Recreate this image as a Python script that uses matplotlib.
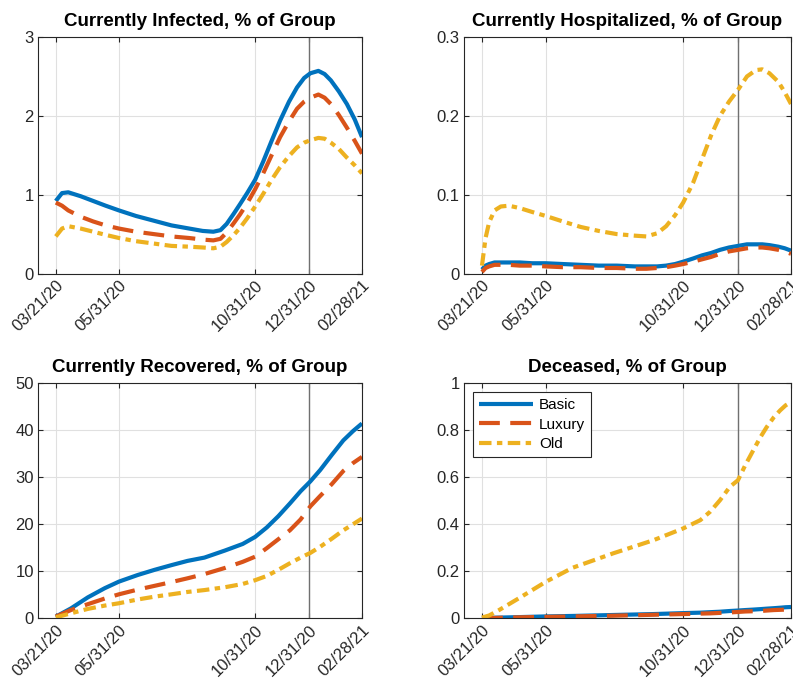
import matplotlib
matplotlib.use("Agg")
import matplotlib.pyplot as plt
import matplotlib.dates as mdates
from matplotlib.ticker import FuncFormatter
import pandas as pd

plt.rcParams["font.family"] = ["Liberation Sans", "DejaVu Sans"]

START = pd.Timestamp("2020-03-21")
GROUPS = ["Basic", "Luxury", "Old"]
TICK_DATES = ["2020-03-21", "2020-05-31", "2020-10-31", "2020-12-31", "2021-02-28"]
MARK_DATE = "2020-12-31"

# days since 03/21/20
inf_days = [0, 7, 14, 28, 42, 56, 71, 90, 110, 130, 150, 165, 177, 185, 192, 200, 207,
            215, 224, 233, 242, 252, 262, 271, 279, 286, 295, 302, 309, 318, 327, 336, 344]
inf_basic = [0.92, 1.02, 1.03, 0.98, 0.92, 0.86, 0.80, 0.73, 0.67, 0.61, 0.57, 0.54,
             0.53, 0.55, 0.63, 0.76, 0.88, 1.02, 1.19, 1.42, 1.67, 1.94, 2.18, 2.36,
             2.48, 2.54, 2.57, 2.53, 2.45, 2.31, 2.15, 1.95, 1.73]
inf_luxury = [0.90, 0.86, 0.80, 0.72, 0.66, 0.61, 0.57, 0.53, 0.50, 0.47, 0.45, 0.43,
              0.42, 0.44, 0.52, 0.64, 0.75, 0.89, 1.07, 1.27, 1.49, 1.73, 1.93, 2.09,
              2.18, 2.23, 2.27, 2.23, 2.15, 2.01, 1.85, 1.68, 1.52]
inf_old = [0.47, 0.57, 0.60, 0.57, 0.53, 0.49, 0.45, 0.41, 0.38, 0.35, 0.34, 0.33,
           0.32, 0.34, 0.40, 0.49, 0.58, 0.70, 0.85, 1.01, 1.18, 1.35, 1.49, 1.60,
           1.66, 1.69, 1.72, 1.71, 1.66, 1.58, 1.47, 1.37, 1.27]

hosp_days = [0, 4, 8, 14, 21, 30, 42, 56, 71, 90, 110, 130, 150, 170, 183, 195, 205,
             215, 224, 235, 245, 255, 265, 275, 285, 295, 305, 312, 320, 330, 337, 344]
hosp_basic = [0.005, 0.010, 0.012, 0.014, 0.014, 0.014, 0.014, 0.013, 0.013, 0.012,
              0.011, 0.010, 0.010, 0.009, 0.009, 0.009, 0.010, 0.012, 0.015, 0.019,
              0.023, 0.026, 0.030, 0.033, 0.035, 0.037, 0.037, 0.037, 0.036, 0.034,
              0.032, 0.029]
hosp_luxury = [0.002, 0.007, 0.009, 0.011, 0.011, 0.011, 0.010, 0.010, 0.009, 0.008,
               0.008, 0.007, 0.007, 0.006, 0.006, 0.007, 0.008, 0.010, 0.012, 0.015,
               0.018, 0.021, 0.025, 0.028, 0.030, 0.032, 0.033, 0.033, 0.032, 0.030,
               0.028, 0.025]
hosp_old = [0.010, 0.045, 0.065, 0.080, 0.085, 0.086, 0.083, 0.078, 0.073, 0.066,
            0.059, 0.054, 0.050, 0.048, 0.047, 0.051, 0.060, 0.074, 0.090, 0.115,
            0.145, 0.175, 0.200, 0.218, 0.233, 0.250, 0.258, 0.259, 0.254, 0.243,
            0.230, 0.215]

rec_days = [0, 17, 36, 55, 71, 92, 111, 130, 148, 167, 190, 210, 224, 237, 250, 263,
            275, 286, 297, 310, 323, 334, 344]
rec_basic = [0.35, 2.1, 4.45, 6.4, 7.8, 9.2, 10.3, 11.3, 12.2, 12.9, 14.4, 15.8, 17.3,
             19.3, 21.7, 24.4, 27.0, 29.1, 31.5, 34.7, 37.8, 39.8, 41.4]
rec_luxury = [0.35, 1.76, 3.0, 4.2, 5.1, 6.1, 6.9, 7.7, 8.5, 9.4, 10.7, 12.0, 13.1,
              14.9, 16.8, 18.7, 21.0, 23.8, 26.0, 28.5, 31.3, 33.0, 34.3]
rec_old = [0.2, 1.06, 2.0, 2.7, 3.2, 4.0, 4.6, 5.1, 5.6, 6.0, 6.6, 7.3, 8.1, 9.0, 10.3,
           11.7, 12.9, 13.9, 15.2, 16.9, 18.7, 20.0, 21.2]

dec_days = [0, 8, 19, 41, 71, 101, 146, 191, 224, 243, 254, 265, 276, 285, 293, 302,
            310, 317, 325, 332, 338, 344]
dec_basic = [0.000, 0.002, 0.003, 0.005, 0.008, 0.010, 0.014, 0.018, 0.022, 0.024,
             0.026, 0.028, 0.031, 0.033, 0.035, 0.037, 0.039, 0.041, 0.043, 0.045,
             0.047, 0.048]
dec_luxury = [0.000, 0.001, 0.002, 0.004, 0.006, 0.008, 0.011, 0.015, 0.018, 0.020,
              0.021, 0.023, 0.025, 0.027, 0.029, 0.030, 0.031, 0.033, 0.035, 0.036,
              0.037, 0.038]
dec_old = [0.003, 0.012, 0.035, 0.085, 0.155, 0.215, 0.276, 0.332, 0.382, 0.417,
           0.453, 0.502, 0.559, 0.587, 0.650, 0.714, 0.770, 0.813, 0.855, 0.884,
           0.905, 0.919]

panels = [
    ("Currently Infected, % of Group", inf_days, [inf_basic, inf_luxury, inf_old], [0, 1, 2, 3]),
    ("Currently Hospitalized, % of Group", hosp_days, [hosp_basic, hosp_luxury, hosp_old], [0, 0.1, 0.2, 0.3]),
    ("Currently Recovered, % of Group", rec_days, [rec_basic, rec_luxury, rec_old], [0, 10, 20, 30, 40, 50]),
    ("Deceased, % of Group", dec_days, [dec_basic, dec_luxury, dec_old], [0, 0.2, 0.4, 0.6, 0.8, 1]),
]

colors = ["#0072BD", "#D95319", "#EDB120"]
dash_styles = [None, (5, 2.5), (3, 1.3, 1.3, 1.3)]

W, H = 793, 688
fig = plt.figure(figsize=(W / 100, H / 100), dpi=100)
boxes = [(38, 37, 362, 273.5), (464, 37, 791, 273.5),
         (38, 383, 362, 618.3), (464, 383, 791, 618.3)]

for (title, days, series, yticks), (x0, y0, x1, y1) in zip(panels, boxes):
    ax = fig.add_axes([x0 / W, 1 - y1 / H, (x1 - x0) / W, (y1 - y0) / H])
    dates = START + pd.to_timedelta(days, unit="D")
    for vals, name, c, ds in zip(series, GROUPS, colors, dash_styles):
        line, = ax.plot(dates, vals, color=c, lw=3, label=name,
                        solid_capstyle="butt", dash_capstyle="butt",
                        solid_joinstyle="round")
        if ds is not None:
            line.set_dashes(ds)
    ax.axvline(pd.Timestamp(MARK_DATE), color="#707070", lw=1.0, zorder=1)
    ax.set_xlim(pd.Timestamp("2020-03-01"), pd.Timestamp("2021-02-28"))
    ax.set_ylim(yticks[0], yticks[-1])
    ax.set_yticks(yticks)
    ax.yaxis.set_major_formatter(FuncFormatter(lambda v, _: f"{v:g}"))
    ax.set_xticks(pd.to_datetime(TICK_DATES))
    ax.xaxis.set_major_formatter(mdates.DateFormatter("%m/%d/%y"))
    for lbl in ax.get_xticklabels():
        lbl.set_rotation(45)
        lbl.set_ha("right")
        lbl.set_rotation_mode("anchor")
    ax.tick_params(direction="in", top=True, right=True, length=3.5, width=0.8,
                   colors="#262626", labelsize=12, pad=3)
    ax.grid(True, color="#e0e0e0", lw=0.8)
    ax.set_axisbelow(True)
    for sp in ax.spines.values():
        sp.set_color("#262626")
        sp.set_linewidth(0.8)
    ax.set_title(title, fontsize=13.5, fontweight="bold", pad=8)

leg = ax.legend(loc="upper left", fontsize=11, handlelength=3.5, fancybox=False,
                framealpha=1, edgecolor="#262626", borderaxespad=0.6,
                labelspacing=0.35, handletextpad=0.4)
leg.get_frame().set_linewidth(0.8)

fig.savefig("out.png", dpi=100)
